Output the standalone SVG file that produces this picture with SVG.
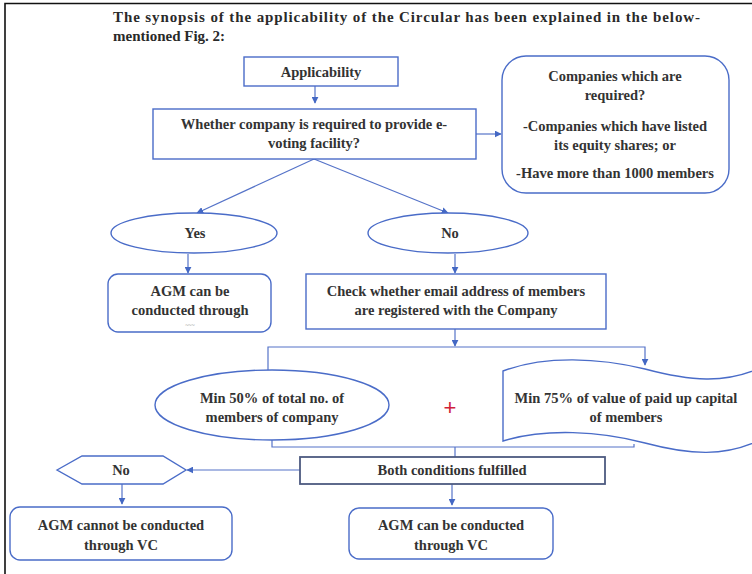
<svg xmlns="http://www.w3.org/2000/svg" width="752" height="574" viewBox="0 0 752 574">
<defs>
<marker id="ah" viewBox="0 0 10 10" refX="9" refY="5" markerWidth="7" markerHeight="7" orient="auto" markerUnits="userSpaceOnUse">
<path d="M0,0 L10,5 L0,10 Z" fill="#4468c4"/>
</marker>
<style>
.t{font-family:"Liberation Serif","DejaVu Serif",serif;font-size:14.5px;font-weight:bold;fill:#333;text-anchor:middle}
.h{font-family:"Liberation Serif","DejaVu Serif",serif;font-size:15px;font-weight:bold;fill:#2a2a2a}
.n{fill:#fff;stroke:#4a6cc8;stroke-width:1.4}
.c{fill:none;stroke:#5573c8;stroke-width:1.2}
.a{marker-end:url(#ah)}
</style>
</defs>
<rect width="752" height="574" fill="#fff"/>
<path d="M5,574 L5,3.5 L752,3.5" fill="none" stroke="#111" stroke-width="1.6"/>
<g id="title">
<text class="h" x="113" y="22" textLength="587" lengthAdjust="spacing">The synopsis of the applicability of the Circular has been explained in the below-</text>
<text class="h" x="113" y="41">mentioned Fig. 2:</text>
</g>
<g id="connectors">
<line class="c a" x1="315" y1="86" x2="315" y2="103"/>
<line class="c a" x1="476" y1="134" x2="501" y2="134"/>
<line class="c a" x1="314" y1="159" x2="197" y2="213"/>
<line class="c a" x1="314" y1="159" x2="448" y2="213"/>
<line class="c a" x1="188" y1="254" x2="188" y2="273"/>
<line class="c a" x1="455" y1="254" x2="455" y2="273"/>
<line class="c a" x1="455" y1="329" x2="455" y2="346"/>
<polyline class="c a" points="268,370 268,347 645,347 645,365"/>
<polyline class="c" points="272,440 272,447 634,447 634,444"/>
<line class="c" x1="455" y1="447" x2="455" y2="457"/>
<line class="c a" x1="300" y1="470" x2="187" y2="470"/>
<line class="c a" x1="122" y1="484" x2="122" y2="504"/>
<line class="c a" x1="452" y1="484" x2="452" y2="505"/>
</g>
<g id="applicability">
<rect class="n" x="244" y="57" width="154" height="29"/>
<text class="t" x="321" y="77">Applicability</text>
</g>
<g id="whether">
<rect class="n" x="153" y="109" width="323" height="50"/>
<text class="t" x="314" y="129">Whether company is required to provide e-</text>
<text class="t" x="314" y="148">voting facility?</text>
</g>
<g id="companies">
<rect class="n" x="502" y="56" width="227" height="137" rx="24"/>
<text class="t" x="615" y="81">Companies which are</text>
<text class="t" x="615" y="100">required?</text>
<text class="t" x="615" y="131">-Companies which have listed</text>
<text class="t" x="615" y="150">its equity shares; or</text>
<text class="t" x="615" y="178">-Have more than 1000 members</text>
</g>
<g id="yes">
<ellipse class="n" cx="194" cy="233" rx="83" ry="20"/>
<text class="t" x="195" y="238">Yes</text>
</g>
<g id="no">
<ellipse class="n" cx="448" cy="233" rx="80" ry="20"/>
<text class="t" x="450" y="238">No</text>
</g>
<g id="agm-yes">
<rect class="n" x="108" y="274" width="163" height="58" rx="10"/>
<text class="t" x="190" y="296">AGM can be</text>
<text class="t" x="190" y="315">conducted through</text>
<text x="190" y="327" font-family="Liberation Serif, serif" font-size="6" fill="#999" text-anchor="middle">~~~</text>
</g>
<g id="check">
<rect class="n" x="306" y="274" width="300" height="55"/>
<text class="t" x="456" y="296">Check whether email address of members</text>
<text class="t" x="456" y="315">are registered with the Company</text>
</g>
<g id="min50">
<ellipse class="n" cx="272" cy="405" rx="117" ry="35"/>
<text class="t" x="272" y="403">Min 50% of total no. of</text>
<text class="t" x="272" y="422">members of company</text>
</g>
<g id="plus">
<text x="450" y="415" font-family="Liberation Sans, sans-serif" font-size="22" fill="#d0213a" text-anchor="middle">+</text>
</g>
<g id="min75">
<path class="n" d="M503,371 C545,355 600,358 645,369 C690,381 725,384 760,368 L760,440 C725,457 690,455 645,443 C600,431 545,428 503,441 Z"/>
<text class="t" x="626" y="403">Min 75% of value of paid up capital</text>
<text class="t" x="626" y="422">of members</text>
</g>
<g id="both">
<rect x="300" y="457" width="305" height="27" fill="#fff" stroke="#4d5a80" stroke-width="1.8"/>
<text class="t" x="452" y="475">Both conditions fulfilled</text>
</g>
<g id="no2">
<polygon class="n" points="57,470 82,456 163,456 186,470 163,484 82,484"/>
<text class="t" x="121" y="475">No</text>
</g>
<g id="agm-cannot">
<rect class="n" x="10" y="507" width="222" height="53" rx="10"/>
<text class="t" x="121" y="530">AGM cannot be conducted</text>
<text class="t" x="121" y="550">through VC</text>
</g>
<g id="agm-can">
<rect class="n" x="349" y="508" width="204" height="51" rx="10"/>
<text class="t" x="451" y="530">AGM can be conducted</text>
<text class="t" x="451" y="550">through VC</text>
</g>
</svg>
